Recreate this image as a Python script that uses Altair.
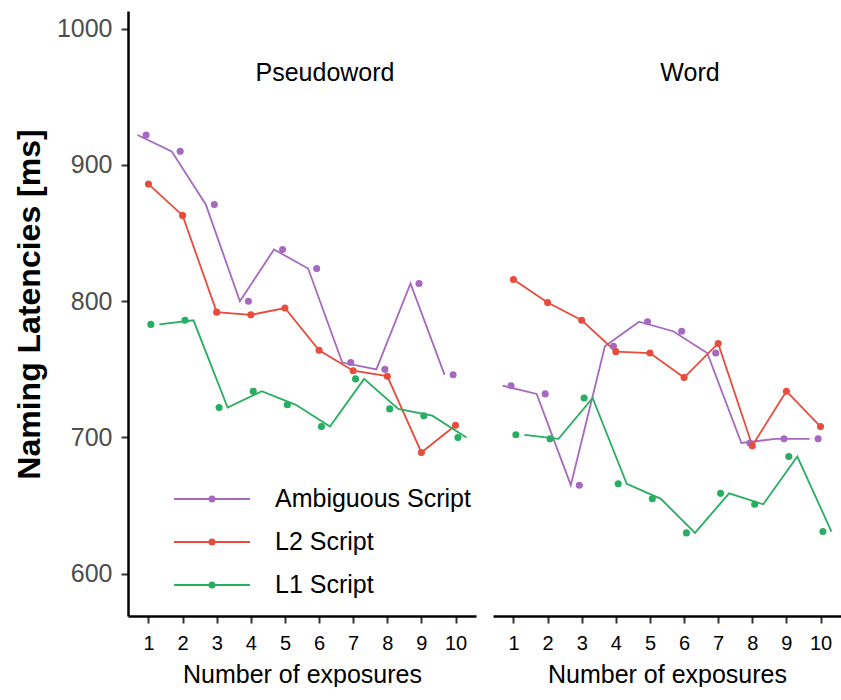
import altair as alt
import pandas as pd

# ---------------- data ----------------
exposures = [1, 2, 3, 4, 5, 6, 7, 8, 9, 10]
conditions = ["Pseudoword", "Word"]
series = ["Ambiguous Script", "L2 Script", "L1 Script"]
colors = ["#A569BD", "#E74C3C", "#27AE60"]

pseudo_ambiguous = [922, 910, 871, 800, 838, 824, 755, 750, 813, 746]
pseudo_l2 = [886, 863, 792, 790, 795, 764, 749, 745, 689, 709]
pseudo_l1 = [783, 786, 722, 734, 724, 708, 743, 721, 716, 700]

word_ambiguous = [738, 732, 665, 767, 785, 778, 762, 696, 699, 699]
word_l2 = [816, 799, 786, 763, 762, 744, 769, 694, 734, 708]
word_l1 = [702, 699, 729, 666, 655, 630, 659, 651, 686, 631]

y_ticks = [600, 700, 800, 900, 1000]

# dodge offsets (style): lines and points are dodged by different amounts
line_shift = {"Ambiguous Script": -0.32, "L2 Script": 0.0, "L1 Script": 0.32}
point_shift = {"Ambiguous Script": -0.07, "L2 Script": 0.0, "L1 Script": 0.07}

values = {
    "Pseudoword": [pseudo_ambiguous, pseudo_l2, pseudo_l1],
    "Word": [word_ambiguous, word_l2, word_l1],
}
rows = []
for cond in conditions:
    for s, vals in zip(series, values[cond]):
        for e, v in zip(exposures, vals):
            rows.append({"condition": cond, "series": s, "exposure": e, "latency": v})
df = pd.DataFrame(rows)
df["x_line"] = df["exposure"] + df["series"].map(line_shift)
df["x_point"] = df["exposure"] + df["series"].map(point_shift)

FONT = "Liberation Sans"
W, H = 348, 605

xscale = alt.Scale(domain=[0.4, 10.6], nice=False, zero=False)
yscale = alt.Scale(domain=[569, 1013], nice=False, zero=False)
cscale = alt.Scale(domain=series, range=colors)

xaxis = alt.Axis(
    values=exposures, format="d", title="Number of exposures",
    labelFontSize=20, labelColor="black", labelFont=FONT, labelPadding=10,
    titleFontSize=25, titleFontWeight="normal", titleColor="black", titleFont=FONT,
    titlePadding=9, tickSize=7, tickWidth=2, tickColor="#333333",
    domainColor="black", domainWidth=2.5, grid=False,
)
yaxis = alt.Axis(
    values=y_ticks, format="d", title="Naming Latencies [ms]",
    labelFontSize=25, labelColor="#4D4D4D", labelFont=FONT, labelPadding=9,
    titleFontSize=32, titleFontWeight="bold", titleColor="black", titleFont=FONT,
    titlePadding=10, titleY=293, tickSize=7, tickWidth=2, tickColor="#333333",
    domainColor="black", domainWidth=2.5, grid=False,
)

r1, r2 = 0.045, 0.13
def circ(r):
    return f"M{r},0A{r},{r} 0 1,1 {-r},0A{r},{r} 0 1,1 {r},0"
SYMBOL = "M-1.9,0H1.9" + circ(r1) + circ(r2)

legend = alt.Legend(
    orient="none", legendX=63, legendY=467, title=None,
    symbolType=SYMBOL, symbolSize=1600, symbolStrokeWidth=1.8,
    labelFontSize=25, labelFont=FONT, labelColor="black", labelOffset=42,
    labelLimit=0, rowPadding=9, padding=0, direction="vertical",
)


def panel(cond, show_y):
    base = alt.Chart(df[df["condition"] == cond])
    ya = yaxis if show_y else None
    line = base.mark_line(strokeWidth=1.8).encode(
        x=alt.X("x_line:Q", scale=xscale, axis=xaxis),
        y=alt.Y("latency:Q", scale=yscale, axis=ya),
        color=alt.Color("series:N", scale=cscale, legend=legend),
        detail="series:N",
    )
    pts = base.mark_point(filled=True, size=50, opacity=1).encode(
        x=alt.X("x_point:Q", scale=xscale, axis=xaxis),
        y=alt.Y("latency:Q", scale=yscale, axis=ya),
        fill=alt.Fill("series:N", scale=cscale, legend=None),
    )
    return alt.layer(line, pts).properties(
        width=W, height=H,
        title=alt.TitleParams(
            cond, offset=-95, baseline="alphabetic", dx=23, fontSize=25,
            font=FONT, fontWeight="normal", color="black", anchor="middle",
        ),
    )


chart = (
    alt.hconcat(panel("Pseudoword", True), panel("Word", False), spacing=17)
    .properties(padding={"left": 13, "top": 11, "right": 0, "bottom": 0})
    .configure_view(stroke=None)
)

chart.save("out.html", embed_options={"renderer": "svg", "actions": False})
